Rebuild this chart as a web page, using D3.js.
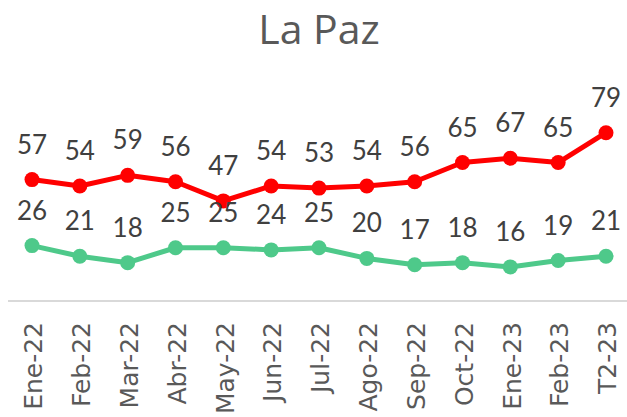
<!DOCTYPE html>
<html>
<head>
<meta charset="utf-8">
<script src="https://cdn.jsdelivr.net/npm/d3@7"></script>
<style>
  body { margin: 0; background: #fff; }
</style>
</head>
<body>
<div id="chart"></div>
<script>
// data
var months = ["Ene-22", "Feb-22", "Mar-22", "Abr-22", "May-22", "Jun-22", "Jul-22",
              "Ago-22", "Sep-22", "Oct-22", "Ene-23", "Feb-23", "T2-23"];
var redValues = [57, 54, 59, 56, 47, 54, 53, 54, 56, 65, 67, 65, 79];
var greenValues = [26, 21, 18, 25, 25, 24, 25, 20, 17, 18, 16, 19, 21];

var width = 627, height = 417;

var svg = d3.select("#chart")
	.append("svg")
	.attr("width", width)
	.attr("height", height);

// scales
var x = d3.scalePoint()
	.domain(months)
	.range([32, 606]);

var y = d3.scaleLinear()
	.domain([0, 100])
	.range([301, 88]);

// title
svg.append("text")
	.attr("x", 319)
	.attr("y", 44)
	.attr("text-anchor", "middle")
	.style("font-family", "'Open Sans', sans-serif")
	.style("font-size", "41px")
	.style("fill", "#595959")
	.text("La Paz");

// x axis
var xAxis = svg.append("g")
	.attr("transform", "translate(0," + y(0) + ")")
	.call(d3.axisBottom(x).tickSize(0).tickPadding(0));

xAxis.select(".domain")
	.attr("d", "M8,0H627")
	.attr("stroke", "#d9d9d9")
	.attr("stroke-width", 2);

xAxis.selectAll("text")
	.attr("transform", "rotate(-90)")
	.attr("x", -21)
	.attr("y", 1)
	.attr("dy", "0.35em")
	.attr("text-anchor", "end")
	.style("font-family", "'DejaVu Sans', sans-serif")
	.style("font-size", "25px")
	.style("fill", "#595959");

// lines + markers + labels
function drawSeries(values, color) {
	var line = d3.line()
		.x(function (d, i) { return x(months[i]); })
		.y(function (d) { return y(d); });

	svg.append("path")
		.datum(values)
		.attr("d", line)
		.attr("fill", "none")
		.attr("stroke", color)
		.attr("stroke-width", 5)
		.attr("stroke-linejoin", "round");

	svg.selectAll(null)
		.data(values)
		.enter()
		.append("circle")
		.attr("cx", function (d, i) { return x(months[i]); })
		.attr("cy", function (d) { return y(d); })
		.attr("r", 7.5)
		.attr("fill", color);

	svg.selectAll(null)
		.data(values)
		.enter()
		.append("text")
		.attr("x", function (d, i) { return x(months[i]); })
		.attr("y", function (d) { return y(d) - 26; })
		.attr("text-anchor", "middle")
		.style("font-family", "Lato, sans-serif")
		.style("font-size", "26px")
		.style("fill", "#404040")
		.text(function (d) { return d; });
}

drawSeries(redValues, "#ff0000");
drawSeries(greenValues, "#4ec98a");
</script>
</body>
</html>
